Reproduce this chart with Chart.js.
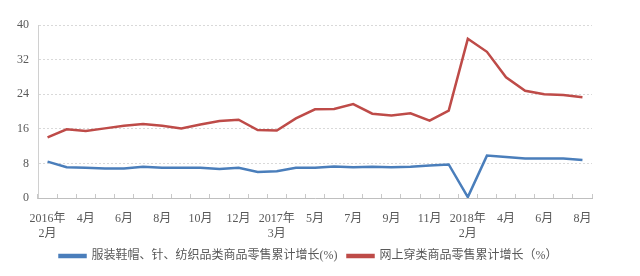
<!DOCTYPE html>
<html>
<head>
    <meta charset="utf-8">
    <script src="https://cdn.jsdelivr.net/npm/chart.js"></script>
    <style>
        html, body {
            margin: 0;
            padding: 0;
            background: #fff;
        }
        .chart-container {
            width: 640px;
            height: 276px;
        }
    </style>
</head>
<body>
    <div class="chart-container">
        <canvas id="salesChart"></canvas>
    </div>
    <script>
        // 2016.2 - 2018.8 (1-2月合并)
        const categories = [
            '2016年\n2月', '3月', '4月', '5月', '6月', '7月', '8月', '9月', '10月', '11月', '12月',
            '2017年\n2月', '2017年\n3月', '4月', '5月', '6月', '7月', '8月', '9月', '10月', '11月', '12月',
            '2018年\n2月', '3月', '4月', '5月', '6月', '7月', '8月'
        ];
        const apparelGrowth = [
            8.4, 7.1, 7.0, 6.8, 6.8, 7.2, 7.0, 7.0, 7.0, 6.7, 7.0,
            6.0, 6.2, 7.0, 7.0, 7.3, 7.1, 7.2, 7.1, 7.25, 7.5,
            7.75, 0.2, 9.8, 9.5, 9.15, 9.15, 9.15, 8.8
        ];
        const onlineApparelGrowth = [
            14.0, 15.9, 15.5, 16.1, 16.7, 17.1, 16.7, 16.1, 17.0, 17.8, 18.1,
            15.7, 15.6, 18.4, 20.5, 20.6, 21.7, 19.5, 19.1, 19.6, 17.9,
            20.2, 36.8, 33.8, 27.9, 24.8, 24.0, 23.8, 23.3
        ];
        const yTicks = [0, 8, 16, 24, 32, 40];

        const textColor = '#595959';
        const fontFamily = "'Liberation Serif', 'Noto Sans CJK SC', serif";

        const ctx = document.getElementById('salesChart').getContext('2d');
        new Chart(ctx, {
            type: 'line',
            data: {
                labels: categories,
                datasets: [
                    {
                        label: '服装鞋帽、针、纺织品类商品零售累计增长(%)',
                        data: apparelGrowth,
                        borderColor: '#4a7ebb',
                        backgroundColor: '#4a7ebb',
                        borderWidth: 2.5,
                        pointRadius: 0,
                        tension: 0
                    },
                    {
                        label: '网上穿类商品零售累计增长（%）',
                        data: onlineApparelGrowth,
                        borderColor: '#be4b48',
                        backgroundColor: '#be4b48',
                        borderWidth: 2.5,
                        pointRadius: 0,
                        tension: 0
                    }
                ]
            },
            options: {
                responsive: true,
                maintainAspectRatio: false,
                animation: false,
                layout: {
                    padding: { top: 25, right: 23, bottom: 4, left: 0 }
                },
                plugins: {
                    tooltip: { enabled: false },
                    legend: {
                        position: 'bottom',
                        labels: {
                            boxWidth: 26,
                            boxHeight: 2,
                            padding: 10,
                            color: textColor,
                            font: { family: fontFamily, size: 12 }
                        }
                    }
                },
                scales: {
                    y: {
                        min: 0,
                        max: 40,
                        afterFit: (scale) => { scale.width = 38; },
                        afterBuildTicks: (scale) => {
                            scale.ticks = yTicks.map(v => ({ value: v }));
                        },
                        ticks: {
                            color: textColor,
                            padding: 9,
                            font: { family: fontFamily, size: 12 }
                        },
                        grid: {
                            color: (c) => c.tick && c.tick.value === 0 ? 'rgba(0,0,0,0)' : '#d9d9d9',
                            drawTicks: false
                        },
                        border: {
                            color: '#d0d0d0',
                            dash: [2, 2]
                        }
                    },
                    // empty spacer on the right so the legend sits centred like the original
                    spacer: {
                        type: 'linear',
                        position: 'right',
                        display: true,
                        afterFit: (scale) => { scale.width = 25; },
                        ticks: { display: false },
                        grid: { display: false },
                        border: { display: false }
                    },
                    x: {
                        offset: true,
                        afterFit: (scale) => { scale.height = 42; },
                        ticks: {
                            autoSkip: false,
                            maxRotation: 0,
                            color: textColor,
                            padding: 18,
                            font: { family: fontFamily, size: 12, lineHeight: 1.2 },
                            callback: function (value, index) {
                                if (index % 2 !== 0) return '';
                                return categories[index].split('\n');
                            }
                        },
                        grid: {
                            offset: true,
                            drawOnChartArea: false,
                            tickLength: -4,
                            color: '#c8c8c8'
                        },
                        border: {
                            color: '#bfbfbf'
                        }
                    }
                }
            }
        });
    </script>
</body>
</html>
